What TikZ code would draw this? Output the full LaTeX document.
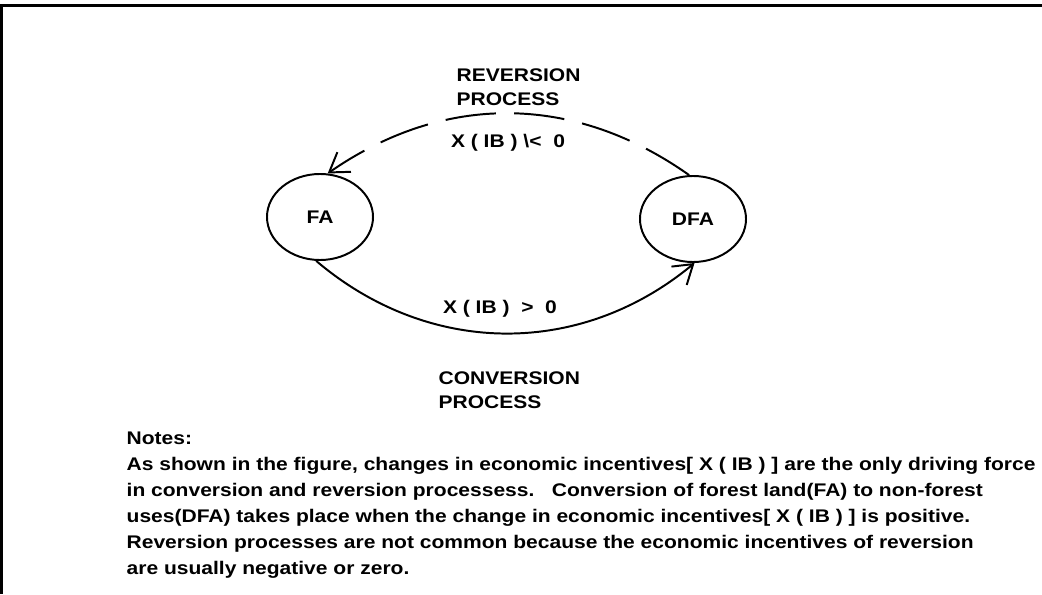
\documentclass[tikz,border=0pt]{standalone}
\usepackage{fontspec}
\setmainfont{Liberation Sans}
\newfontfamily\pixfont[FakeStretch=1.15]{Liberation Sans}
\usetikzlibrary{shapes.geometric,arrows.meta}
\begin{document}
\begin{tikzpicture}[x=0.025cm, y=0.025cm, line width=1.4pt,
  every node/.style={font=\pixfont\bfseries\fontsize{13}{17}\selectfont},
  land/.style={draw, ellipse, minimum width=2.65cm, minimum height=2.15cm, inner sep=0pt},
  flow/.style={-{Straight Barb[length=13pt,width=17pt]}},
  note/.style={font=\pixfont\bfseries\fontsize{13}{18.5}\selectfont, align=left}]
  \useasboundingbox (0,0) rectangle (1042,594);
  % frame, only top and left edges show
  \draw[line width=2.2pt] (1,0) -- (1,588.5) -- (1042,588.5);
  \node[land] (fa) at (320,377) {FA};
  \node[land] (dfa) at (693,375) {DFA};
  \node[anchor=west, align=left] (rev) at (451,507) {REVERSION\\PROCESS};
  \node (neg) at (508,451) {X ( IB ) \textbackslash{}< \ 0};
  \node (pos) at (500,285) {X ( IB ) \ > \ 0};
  \node[anchor=west, align=left] (conv) at (433,204) {CONVERSION\\PROCESS};
  \draw[flow, dash pattern=on 36pt off 13pt] (dfa.95) to[bend right=35] (fa.80);
  \draw[flow] (fa.-95) to[bend right=40] (dfa.-88);
  \node[note, anchor=north west] (notes) at (121,168) {Notes:\\
    As shown in the figure, changes in economic incentives[ X ( IB ) ] are the only driving force\\
    in conversion and reversion processess.\ \ \ Conversion of forest land(FA) to non-forest\\
    uses(DFA) takes place when the change in economic incentives[ X ( IB ) ] is positive.\\
    Reversion processes are not common because the economic incentives of reversion\\
    are usually negative or zero.};
\end{tikzpicture}
\end{document}
